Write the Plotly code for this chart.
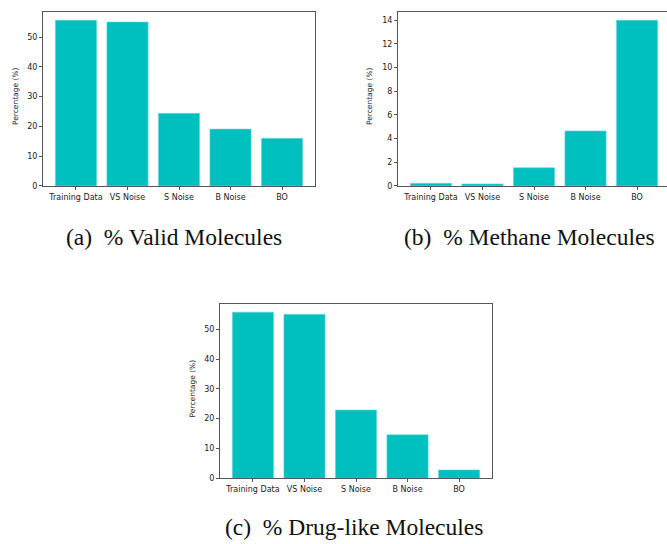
import plotly.graph_objects as go

categories = ["Training Data", "VS Noise", "S Noise", "B Noise", "BO"]
valid_pct = [55.7, 55.1, 24.4, 19.1, 16.0]
methane_pct = [0.22, 0.17, 1.54, 4.65, 14.0]
druglike_pct = [55.7, 55.0, 22.9, 14.6, 2.8]
captions = ["(a)  % Valid Molecules", "(b)  % Methane Molecules", "(c)  % Drug-like Molecules"]
ytitle = "Percentage (%)"

W, H = 667, 544
BAR = "#00bfbf"
EDGE = "#6fd8d8"
SPINE = "#555555"
TICKF = dict(family="DejaVu Sans", size=8, color="#222222")

fig = go.Figure()

panels = [
    (43, 315, 12, 187.7, valid_pct, [0, 10, 20, 30, 40, 50], True),
    (398, 667, 12, 187.7, methane_pct, [0, 2, 4, 6, 8, 10, 12, 14], False),
    (220, 492, 306.7, 482.7, druglike_pct, [0, 10, 20, 30, 40, 50], True),
]

layout = {}
for i, (l, r, t, b, vals, ticks, mirror_y) in enumerate(panels):
    n = "" if i == 0 else str(i + 1)
    fig.add_trace(go.Bar(x=list(range(len(categories))), y=vals,
                         marker=dict(color=BAR, line=dict(color=EDGE, width=0.6)),
                         xaxis="x" + n, yaxis="y" + n, showlegend=False))
    full_w = 272.0
    px_per_unit = full_w / 5.28
    xmax = -0.64 + (r - l) / px_per_unit
    ymax = max(vals) * 1.05
    layout["xaxis" + n] = dict(domain=[l / W, r / W], anchor="y" + n,
                               range=[-0.64, xmax], tickmode="array",
                               tickvals=list(range(len(categories))), ticktext=categories,
                               showline=True, linecolor=SPINE, linewidth=1, mirror=True,
                               ticks="outside", ticklen=3, tickcolor=SPINE,
                               showgrid=False, zeroline=False, tickfont=TICKF, fixedrange=True)
    layout["yaxis" + n] = dict(domain=[1 - b / H, 1 - t / H], anchor="x" + n,
                               range=[0, ymax], tickmode="array", tickvals=ticks,
                               showline=True, linecolor=SPINE, linewidth=1, mirror=mirror_y,
                               ticks="outside", ticklen=3, tickcolor=SPINE,
                               showgrid=False, zeroline=False, tickfont=TICKF, fixedrange=True)

annotations = [
    dict(text=ytitle, x=15 / W, y=1 - 97 / H, textangle=-90),
    dict(text=ytitle, x=369 / W, y=1 - 97 / H, textangle=-90),
    dict(text=ytitle, x=192 / W, y=1 - 392 / H, textangle=-90),
]
for a in annotations:
    a.update(xref="paper", yref="paper", showarrow=False, xanchor="center", yanchor="middle",
             font=dict(family="DejaVu Sans", size=7.5, color="#222222"))

cap_pos = [(174, 239), (529, 239), (354, 532)]
for txt, (cx, cy) in zip(captions, cap_pos):
    annotations.append(dict(text=txt, x=cx / W, y=1 - cy / H, xref="paper", yref="paper",
                            showarrow=False, xanchor="center", yanchor="middle",
                            font=dict(family="Liberation Serif", size=23.5, color="#111111")))

fig.update_layout(**layout, annotations=annotations, width=W, height=H,
                  margin=dict(l=0, r=0, t=0, b=0), bargap=0.2,
                  paper_bgcolor="white", plot_bgcolor="white")

fig.write_html("out.html", config={"displayModeBar": False})
